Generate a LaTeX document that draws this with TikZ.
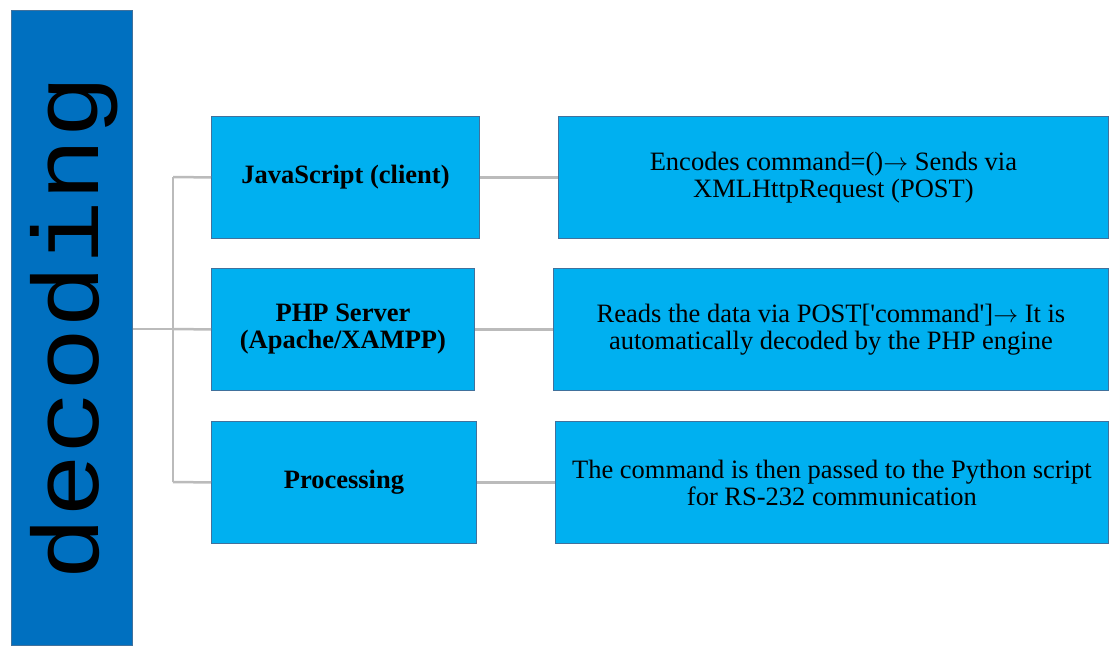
\documentclass[tikz,border=0pt]{standalone}
\usepackage{fontspec}
\setmainfont{Liberation Serif}[Ligatures=TeXOff]
\newfontfamily\monofam{Liberation Mono}[FakeStretch=1.12]
\newcommand{\sendarrow}{\ensuremath{\rightarrow}}
\definecolor{barblue}{HTML}{0070C0}
\definecolor{boxblue}{HTML}{00B0F0}
\definecolor{edgeblue}{HTML}{41719C}
\definecolor{linkgray}{HTML}{BBBBBB}
\tikzset{
  barbox/.style={rectangle, draw=edgeblue, line width=0.9pt, fill=barblue,
    anchor=north west, inner sep=0pt},
  stagebox/.style={rectangle, draw=edgeblue, line width=0.9pt, fill=boxblue,
    anchor=north west, inner sep=0pt, minimum height=122pt, align=center,
    font=\bfseries\fontsize{26.5}{27}\selectfont},
  detailbox/.style={rectangle, draw=edgeblue, line width=0.9pt, fill=boxblue,
    anchor=north west, inner sep=0pt, minimum height=122pt, align=center,
    font=\fontsize{26.5}{27}\selectfont},
  conn/.style={draw=linkgray, line width=2.5pt},
}
\begin{document}
\begin{tikzpicture}[x=1pt,y=-1pt]
\useasboundingbox (0,0) rectangle (1114,646);

% vertical title bar
\node[barbox, minimum width=121pt, minimum height=635pt] (root) at (11,10) {};
\node[rotate=90, anchor=base, inner sep=0pt,
      font=\monofam\fontsize{94}{94}\selectfont] (title) at (98,328) {decoding};

% stage boxes
\node[stagebox, minimum width=268pt] (m1) at (211,116) {JavaScript (client)};
\node[stagebox, minimum width=263pt] (m2) at (211,268) {PHP Server\\(Apache/XAMPP)};
\node[stagebox, minimum width=265pt] (m3) at (211,421) {Processing};

% detail boxes
\node[detailbox, minimum width=550pt] (r1) at (558,116)
  {Encodes command=()\sendarrow{} Sends via\\XMLHttpRequest (POST)};
\node[detailbox, minimum width=555pt] (r2) at (553,268)
  {Reads the data via POST['command']\sendarrow{} It is\\automatically decoded by the PHP engine};
\node[detailbox, minimum width=553pt] (r3) at (555,421)
  {The command is then passed to the Python script\\for RS-232 communication};

% tree connectors
\coordinate (jtop) at (173,177);
\coordinate (jmid) at (173,329);
\coordinate (jbot) at (173,482);
\draw[conn] (root.east |- jmid) -- (jmid);
\draw[conn] (jtop) -- (jbot);
\draw[conn] (jtop) -- (m1.west);
\draw[conn] (jmid) -- (m2.west);
\draw[conn] (jbot) -- (m3.west);
\draw[conn] (m1.east) -- (r1.west);
\draw[conn] (m2.east) -- (r2.west);
\draw[conn] (m3.east) -- (r3.west);
\end{tikzpicture}
\end{document}
